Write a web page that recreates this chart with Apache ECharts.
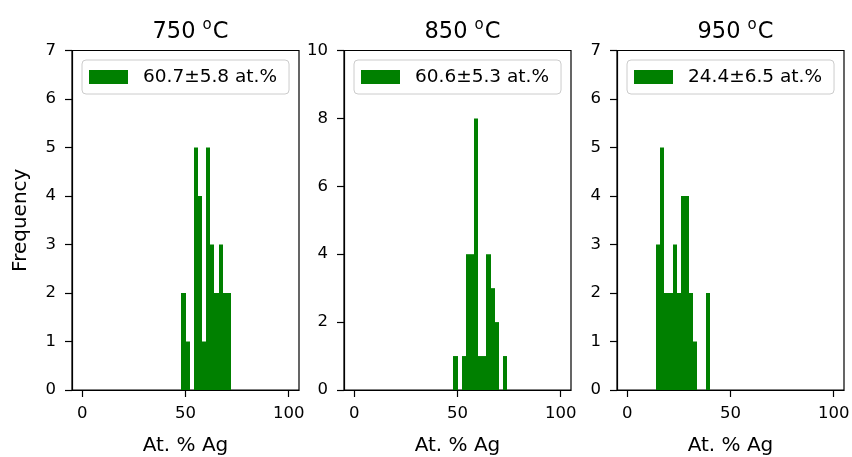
<!DOCTYPE html>
<html>
<head>
<meta charset="utf-8">
<script src="https://cdn.jsdelivr.net/npm/echarts@6/dist/echarts.min.js"></script>
<style>
  html, body { margin: 0; padding: 0; background: #ffffff; }
  #chart { width: 852px; height: 457px; }
</style>
</head>
<body>
<div id="chart"></div>
<script>
// Histogram bin edges (at.% Ag) and counts for each annealing temperature
const edges750 = [48, 50, 52, 54, 56, 58, 60, 62, 64, 66, 68, 70, 72];
const counts750 = [2, 1, 0, 5, 4, 1, 5, 3, 2, 3, 2, 2];

const edges850 = [48, 50, 52, 54, 56, 58, 60, 62, 64, 66, 68, 70, 72, 74];
const counts850 = [1, 0, 1, 4, 4, 8, 1, 1, 4, 3, 2, 0, 1];

const edges950 = [14, 16, 18, 20, 22, 24, 26, 28, 30, 32, 34, 36, 38, 40];
const counts950 = [3, 5, 2, 2, 3, 2, 4, 4, 2, 1, 0, 0, 2];

const titles = ['750', '850', '950'];
const legendLabels = ['60.7±5.8 at.%', '60.6±5.3 at.%', '24.4±6.5 at.%'];
const yMax = [7, 10, 7];
const yStep = [1, 2, 1];
const xTicks = [0, 50, 100];

const FONT = 'DejaVu Sans';
const GREEN = '#008000';
const panelLeft = [72, 344, 617];
const panelWidth = 227;
const panelTop = 50.5;
const panelHeight = 339.5;

const panels = [
  { edges: edges750, counts: counts750 },
  { edges: edges850, counts: counts850 },
  { edges: edges950, counts: counts950 }
];

function binData(edges, counts) {
  return counts.map((c, i) => [edges[i], edges[i + 1], c]);
}

// Each bin is a rectangle from its left edge to its right edge; edges are
// snapped to whole pixels so neighbouring bins join without seams.
function renderBin(params, api) {
  const h = api.value(2);
  if (!h) return null;
  const p0 = api.coord([api.value(0), 0]);
  const p1 = api.coord([api.value(1), h]);
  const x0 = Math.round(p0[0]);
  const x1 = Math.round(p1[0]);
  return {
    type: 'rect',
    shape: { x: x0, y: p1[1], width: x1 - x0, height: p0[1] - p1[1] },
    style: { fill: GREEN }
  };
}

const grids = [], xAxes = [], yAxes = [], series = [], legends = [], titleList = [];

panels.forEach((p, i) => {
  grids.push({
    left: panelLeft[i], top: panelTop, width: panelWidth, height: panelHeight,
    outerBoundsMode: 'none', containLabel: false,
    show: true, borderColor: '#000', borderWidth: 1.2, backgroundColor: 'transparent'
  });
  xAxes.push({
    type: 'value', gridIndex: i, min: -5, max: 105,
    name: 'At. % Ag', nameLocation: 'middle', nameGap: 46,
    nameTextStyle: { fontFamily: FONT, fontSize: 20, color: '#000' },
    axisLine: { onZero: false, lineStyle: { color: '#000', width: 1.2 } },
    axisTick: { show: true, length: 7, lineStyle: { color: '#000', width: 1.2 }, customValues: xTicks },
    axisLabel: { fontFamily: FONT, fontSize: 16.5, color: '#000', margin: 15, customValues: xTicks },
    splitLine: { show: false }
  });
  yAxes.push({
    type: 'value', gridIndex: i, min: 0, max: yMax[i], interval: yStep[i],
    name: i === 0 ? 'Frequency' : '', nameLocation: 'middle', nameGap: 41,
    nameTextStyle: { fontFamily: FONT, fontSize: 20, color: '#000' },
    axisLine: { show: true, onZero: false, lineStyle: { color: '#000', width: 1.2 } },
    axisTick: { show: true, length: 7, lineStyle: { color: '#000', width: 1.2 } },
    axisLabel: { fontFamily: FONT, fontSize: 16.5, color: '#000', margin: 16 },
    splitLine: { show: false }
  });
  series.push({
    type: 'custom', name: legendLabels[i], xAxisIndex: i, yAxisIndex: i,
    itemStyle: { color: GREEN },
    renderItem: renderBin,
    data: binData(p.edges, p.counts)
  });
  legends.push({
    data: [legendLabels[i]], left: panelLeft[i] + 10, top: 60,
    icon: 'rect', itemWidth: 39, itemHeight: 14,
    selectedMode: false,
    padding: [6, 12, 6, 7],
    borderColor: '#cccccc', borderWidth: 1, borderRadius: 4,
    backgroundColor: 'rgba(255,255,255,0.8)',
    textStyle: { fontFamily: FONT, fontSize: 18.5, color: '#000', lineHeight: 22, padding: [0, 0, 0, 10] }
  });
  titleList.push({
    text: '{n|' + titles[i] + ' }{s|o}{n|C}',
    left: panelLeft[i] + panelWidth / 2, top: 13, textAlign: 'center',
    textStyle: {
      fontFamily: FONT, color: '#000', fontWeight: 'normal',
      rich: {
        n: { fontFamily: FONT, fontSize: 22.5, fontWeight: 'normal', color: '#000', lineHeight: 28 },
        s: { fontFamily: FONT, fontSize: 15, fontWeight: 'normal', color: '#000', verticalAlign: 'top', lineHeight: 28, padding: [0, 1, 10, 0] }
      }
    }
  });
});

const chart = echarts.init(document.getElementById('chart'), null, { renderer: 'canvas' });
chart.setOption({
  animation: false,
  backgroundColor: '#ffffff',
  title: titleList,
  legend: legends,
  grid: grids,
  xAxis: xAxes,
  yAxis: yAxes,
  series: series
});
</script>
</body>
</html>
